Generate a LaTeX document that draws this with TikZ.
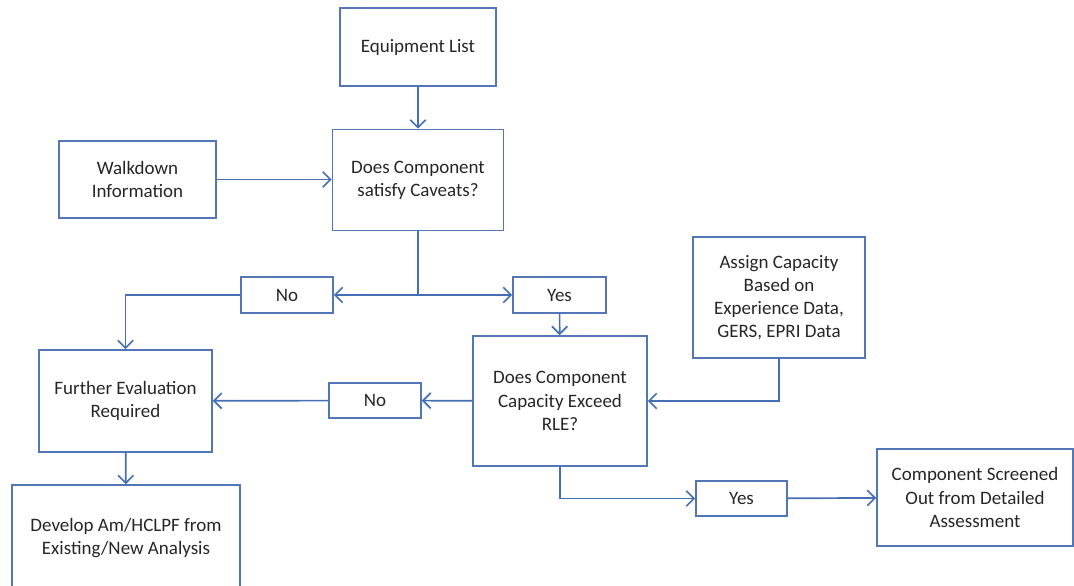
\documentclass[tikz,border=0pt]{standalone}
\usepackage{fontspec}
\setmainfont{Carlito}
\usepackage{tikz}
\usetikzlibrary{arrows.meta, positioning, calc}
\usepackage{xcolor}
\definecolor{boxblue}{RGB}{82,118,182}
\definecolor{lineblue}{RGB}{70,110,180}

\begin{document}
\begin{tikzpicture}[x=0.025cm, y=-0.025cm, font=\fontsize{13.5}{16.5}\selectfont,
  box/.style={rectangle, draw=boxblue, line width=1.1pt, align=center, inner sep=2pt, text=black!85},
  flow/.style={-{Straight Barb[length=5.5pt,width=11pt]}, draw=lineblue, line width=1.2pt}]

 \useasboundingbox (0,0) rectangle (1074,586);

 % Nodes
 \node[box, minimum width=3.9cm, minimum height=1.95cm] (equip) at (418,47) {Equipment List};
 \node[box, minimum width=4.275cm, minimum height=2.525cm] (caveats) at (418,180) {Does Component\\satisfy Caveats?};
 \node[box, minimum width=3.925cm, minimum height=1.925cm] (walk) at (137.5,179.5) {Walkdown\\Information};
 \node[box, minimum width=2.3cm, minimum height=0.9cm] (no1) at (287,295) {No};
 \node[box, minimum width=2.325cm, minimum height=0.9cm] (yes1) at (559.5,295) {Yes};
 \node[box, minimum width=4.325cm, minimum height=2.55cm] (further) at (125.5,401) {Further Evaluation\\Required};
 \node[box, minimum width=5.7cm, minimum height=2.65cm] (develop) at (126,538) {Develop Am/HCLPF from\\Existing/New Analysis};
 \node[box, minimum width=2.3cm, minimum height=0.875cm] (no2) at (375,400.5) {No};
 \node[box, minimum width=4.35cm, minimum height=3.25cm] (capacity) at (560,401) {Does Component\\Capacity Exceed\\RLE?};
 \node[box, minimum width=4.3cm, minimum height=3.025cm] (assign) at (779,297.5) {Assign Capacity\\Based on\\Experience Data,\\GERS, EPRI Data};
 \node[box, minimum width=2.275cm, minimum height=0.875cm] (yes2) at (741.5,498.5) {Yes};
 \node[box, minimum width=4.9cm, minimum height=2.425cm] (screened) at (975,497.5) {Component Screened\\Out from Detailed\\Assessment};

 \coordinate (split) at (418,295);

 % Connectors
 \draw[flow] (equip) -- (caveats);
 \draw[flow] (walk) -- (walk -| caveats.west);
 \draw[draw=lineblue, line width=1.2pt] (caveats) -- (split);
 \draw[flow] (split) -- (no1);
 \draw[flow] (split) -- (yes1);
 \draw[flow] (no1.west) -| (further.north);
 \draw[flow] (yes1) -- (capacity);
 \draw[flow] (capacity) -- (no2);
 \draw[flow] (no2) -- (further);
 \draw[flow] (assign.south) |- (capacity.east);
 \draw[flow] (further) -- (develop);
 \draw[flow] (capacity.south) |- (yes2.west);
 \draw[flow] (yes2) -- (screened);

\end{tikzpicture}
\end{document}
